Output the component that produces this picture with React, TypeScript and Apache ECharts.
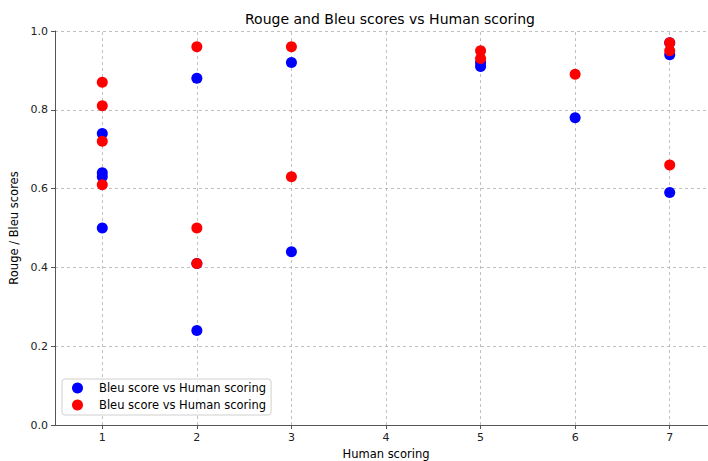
import React, { useEffect, useRef } from "react";
import * as echarts from "echarts";

const xTicks = [1, 2, 3, 4, 5, 6, 7];
const bleuX = [1, 1, 1, 1, 2, 2, 2, 3, 3, 5, 5, 6, 7, 7, 7];
const bleuY = [0.74, 0.64, 0.63, 0.5, 0.88, 0.41, 0.24, 0.92, 0.44, 0.92, 0.91, 0.78, 0.97, 0.94, 0.59];
const rougeX = [1, 1, 1, 1, 2, 2, 2, 3, 3, 5, 5, 6, 7, 7, 7];
const rougeY = [0.87, 0.81, 0.72, 0.61, 0.96, 0.5, 0.41, 0.96, 0.63, 0.95, 0.93, 0.89, 0.97, 0.95, 0.66];
const legendLabels = ["Bleu score vs Human scoring", "Bleu score vs Human scoring"];
const titleText = "Rouge and Bleu scores vs Human scoring";

const FONT = "DejaVu Sans";

export default function App() {
  const ref = useRef<HTMLDivElement>(null);
  useEffect(() => {
    if (!ref.current) return;
    const chart = echarts.init(ref.current, null, { renderer: "svg" });
    const labelMap: Record<string, string> = { bleu: legendLabels[0], rouge: legendLabels[1] };
    chart.setOption({
      animation: false,
      backgroundColor: "#ffffff",
      textStyle: { fontFamily: FONT },
      title: {
        text: titleText,
        left: 385,
        textAlign: "center",
        top: 7,
        textStyle: { fontFamily: FONT, fontSize: 14, fontWeight: "normal", color: "#000" },
      },
      grid: { left: 55, right: -9, top: 31, bottom: 36, containLabel: false, outerBoundsMode: "none" },
      legend: {
        left: 62,
        top: 379,
        orient: "vertical",
        icon: "circle",
        itemWidth: 11,
        itemHeight: 11,
        itemGap: 5,
        padding: [3, 5, 4, 10],
        borderColor: "#d0d0d0",
        borderWidth: 1,
        borderRadius: 3,
        backgroundColor: "rgba(255,255,255,0.8)",
        data: ["bleu", "rouge"],
        formatter: (name: string) => labelMap[name] || name,
        textStyle: { fontFamily: FONT, fontSize: 11.5, color: "#000", padding: [0, 0, 0, 11] },
      },
      xAxis: {
        type: "value",
        min: 0.5,
        max: 7.5,
        name: "Human scoring",
        nameLocation: "middle",
        nameGap: 20,
        nameTextStyle: { fontFamily: FONT, fontSize: 11.5, color: "#000", verticalAlign: "top" },
        axisLine: { show: true, lineStyle: { color: "#555", width: 1 } },
        axisTick: { show: true, length: 4, customValues: xTicks, lineStyle: { color: "#555" } },
        axisLabel: { customValues: xTicks, fontFamily: FONT, fontSize: 11, color: "#222", margin: 7 },
        splitLine: { show: false },
      },
      yAxis: {
        type: "value",
        min: 0,
        max: 1,
        interval: 0.2,
        name: "Rouge / Bleu scores",
        nameLocation: "middle",
        nameGap: 32,
        nameTextStyle: { fontFamily: FONT, fontSize: 11.5, color: "#000" },
        axisLine: { show: true, lineStyle: { color: "#555", width: 1 } },
        axisTick: { show: true, length: 4, lineStyle: { color: "#555" } },
        axisLabel: {
          fontFamily: FONT,
          fontSize: 11,
          color: "#222",
          margin: 7,
          formatter: (v: number) => v.toFixed(1),
        },
        splitLine: { show: true, lineStyle: { color: "#b0b0b0", type: [3, 3], width: 0.8 } },
      },
      series: [
        {
          name: "bleu",
          type: "scatter",
          symbol: "circle",
          symbolSize: 11,
          itemStyle: { color: "#0000ff", opacity: 1 },
          data: bleuX.map((x, i) => [x, bleuY[i]]),
          z: 3,
          markLine: {
            silent: true,
            symbol: "none",
            z: 1,
            label: { show: false },
            lineStyle: { color: "#b0b0b0", type: [3, 3], width: 0.8 },
            data: xTicks.map((x) => ({ xAxis: x })),
          },
        },
        {
          name: "rouge",
          type: "scatter",
          symbol: "circle",
          symbolSize: 11,
          itemStyle: { color: "#ff0000", opacity: 1 },
          data: rougeX.map((x, i) => [x, rougeY[i]]),
          z: 4,
        },
      ],
    });
    return () => chart.dispose();
  }, []);
  return <div ref={ref} style={{ width: 708, height: 461, position: "absolute", left: 0, top: 0 }} />;
}
